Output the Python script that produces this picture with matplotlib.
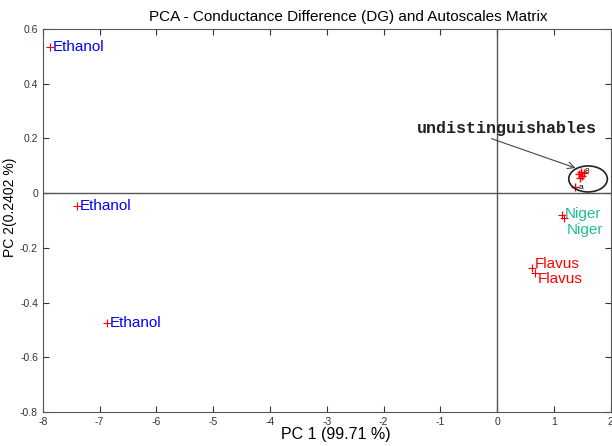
import matplotlib
matplotlib.use("Agg")
import matplotlib.pyplot as plt
from matplotlib.patches import Ellipse

plt.rcParams['font.family'] = ['Liberation Sans', 'DejaVu Sans']

# Data
labels = ["Ethanol", "Ethanol", "Ethanol", "Niger", "Niger", "Flavus", "Flavus"]
pc1 = [-7.88, -7.40, -6.87, 1.14, 1.17, 0.61, 0.67]
pc2 = [0.535, -0.047, -0.476, -0.080, -0.090, -0.275, -0.290]
colors = ["#0000ff", "#0000ff", "#0000ff", "#1fbf9a", "#1fbf9a", "#ff0000", "#ff0000"]

cluster_x = [1.44, 1.47, 1.50, 1.45, 1.52, 1.37]
cluster_y = [0.070, 0.078, 0.062, 0.055, 0.072, 0.022]
cluster_labels = ["", "8", "", "", "", "a"]

xticks = [-8, -7, -6, -5, -4, -3, -2, -1, 0, 1, 2]
yticks = [-0.8, -0.6, -0.4, -0.2, 0, 0.2, 0.4, 0.6]

# label offsets (points) so duplicated names do not overlap
label_dy = [0, 0, 0, 1, -9, 3, -5]

fig = plt.figure(figsize=(6.12, 4.46), dpi=100)
ax = fig.add_axes([0.070, 0.076, 0.928, 0.859])

ax.axhline(0, color="#555555", lw=1)
ax.axvline(0, color="#555555", lw=1)

ax.scatter(pc1, pc2, marker="+", color="red", s=30, linewidths=0.8, zorder=3)
for x, y, t, c, dy in zip(pc1, pc2, labels, colors, label_dy):
    ax.annotate(t, (x, y), xytext=(2, dy), textcoords="offset points",
                color=c, fontsize=11, va="center", ha="left")

ax.scatter(cluster_x, cluster_y, marker="+", color="red", s=30, linewidths=1.0, zorder=3)
for x, y, t in zip(cluster_x, cluster_y, cluster_labels):
    if t:
        ax.text(x + 0.07, y, t, color="black", fontsize=6, va="center", ha="left")

ell = Ellipse((1.60, 0.052), 0.68, 0.095, fill=False, edgecolor="#222222", lw=1.2, zorder=4)
ax.add_patch(ell)

ax.annotate("undistinguishables", xy=(1.38, 0.092), xytext=(0.17, 0.237),
            fontsize=12, fontweight="bold", family="Liberation Mono", color="#222222",
            ha="center", va="center",
            arrowprops=dict(arrowstyle="->", color="#444444", lw=0.8,
                            shrinkA=0, shrinkB=0, relpos=(0.37, 0.0)))

ax.set_xlim(-8, 2)
ax.set_ylim(-0.8, 0.6)
ax.set_xticks(xticks)
ax.set_yticks(yticks)
ax.set_xticklabels([str(v) for v in xticks])
ax.set_yticklabels(["%g" % v for v in yticks])
ax.tick_params(direction="in", top=True, right=True, labelsize=7.5, length=4, colors="#333333")
for s in ax.spines.values():
    s.set_color("#555555")

ax.set_title("PCA - Conductance Difference (DG) and Autoscales Matrix", fontsize=11, x=0.537, y=1.0, pad=6)
ax.set_xlabel("PC 1 (99.71 %)", fontsize=11.5)
ax.xaxis.set_label_coords(0.516, -0.038)
ax.set_ylabel("PC 2(0.2402 %)", fontsize=10)
ax.yaxis.set_label_coords(-0.046, 0.535)

fig.savefig("out.png", dpi=100)
